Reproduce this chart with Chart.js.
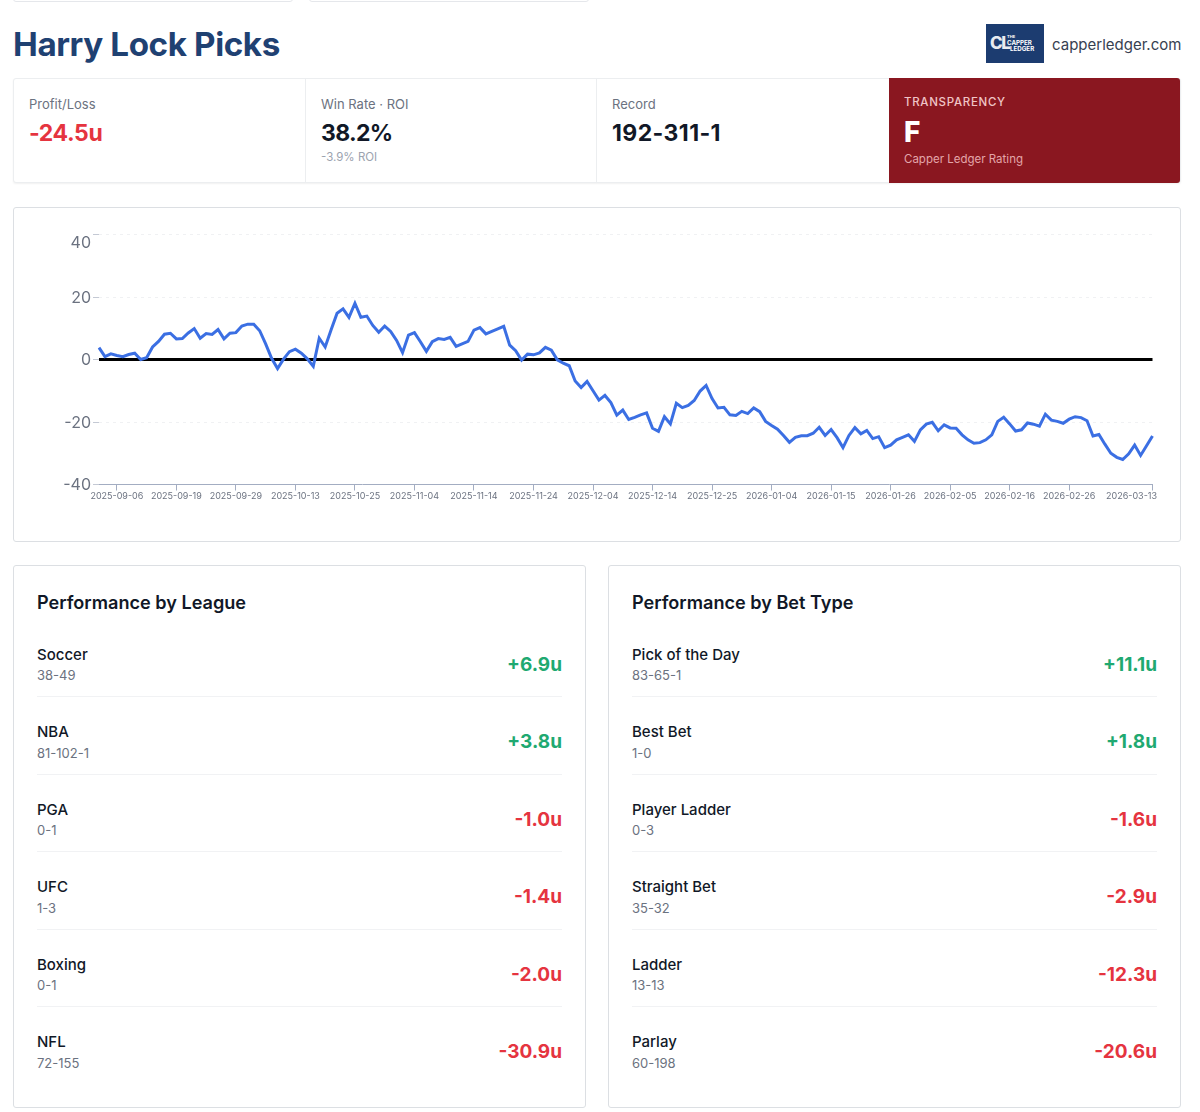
<!DOCTYPE html>
<html>
<head>
<meta charset="utf-8">
<title>Harry Lock Picks</title>
<script src="https://cdn.jsdelivr.net/npm/chart.js@4"></script>
<style>
  html, body { margin: 0; padding: 0; background: #fff; }
  body { width: 1200px; height: 1112px; position: relative; overflow: hidden; font-family: Inter, "Noto Sans", sans-serif; color: #111827; }
  .abs { position: absolute; white-space: nowrap; line-height: 1; }
  .box { position: absolute; box-sizing: border-box; background: #fff; border: 1px solid #dcdfe3; border-radius: 3px; }
  .rowname { font-size: 15px; font-weight: 500; color: #111827; }
  .rowrec { font-size: 13px; color: #6b7280; }
  .rowval { font-size: 19px; font-weight: 700; }
  .card-title { font-size: 18.1px; font-weight: 600; color: #111827; }
  .divider { position: absolute; height: 1px; background: #f1f2f4; }
</style>
</head>
<body>
<div class="box" style="left:13px;top:-20px;width:280px;height:22px;border-color:#e5e7eb;"></div>
<div class="box" style="left:309px;top:-20px;width:280px;height:22px;border-color:#e5e7eb;"></div>

<div class="abs" id="title" style="left:13px;top:28px;font-size:33.2px;font-weight:700;color:#1f4172;letter-spacing:-0.4px;">Harry Lock Picks</div>
<div style="position:absolute;left:986px;top:24px;width:58px;height:39px;background:#1c3c70;overflow:hidden;">
  <div class="abs" style="left:4px;top:11px;font-size:17px;font-weight:800;color:#e8ebf0;letter-spacing:-1.5px;">CL</div>
  <div class="abs" style="left:21px;top:11px;font-size:4px;font-weight:700;color:#fff;">THE</div>
  <div class="abs" style="left:21px;top:16px;font-size:6.2px;font-weight:700;color:#fff;">CAPPER</div>
  <div class="abs" style="left:24px;top:21.5px;font-size:6.2px;font-weight:700;color:#fff;">LEDGER</div>
</div>
<div class="abs" style="left:1052px;top:37px;font-size:15px;color:#374151;">capperledger.com</div>

<div class="box" style="left:13px;top:78px;width:1168px;height:105px;border-color:#eceef0;box-shadow:0 1px 2px rgba(0,0,0,.06);"></div>
<div style="position:absolute;left:305px;top:79px;width:1px;height:103px;background:#eceef0;"></div>
<div style="position:absolute;left:596px;top:79px;width:1px;height:103px;background:#eceef0;"></div>
<div style="position:absolute;left:889px;top:78px;width:291px;height:105px;background:#8a1720;border-radius:0 3px 3px 0;"></div>

<div class="abs" style="left:29px;top:98px;font-size:13px;color:#6b7280;">Profit/Loss</div>
<div class="abs" style="left:29px;top:122px;font-size:23px;font-weight:700;color:#e5343f;letter-spacing:-0.4px;">-24.5u</div>
<div class="abs" style="left:321px;top:98px;font-size:13px;color:#6b7280;">Win Rate · ROI</div>
<div class="abs" style="left:321px;top:122px;font-size:23px;font-weight:700;color:#111827;letter-spacing:-0.7px;">38.2%</div>
<div class="abs" style="left:321px;top:152px;font-size:11.5px;color:#9ca3af;">-3.9% ROI</div>
<div class="abs" style="left:612px;top:98px;font-size:13px;color:#6b7280;">Record</div>
<div class="abs" style="left:612px;top:122px;font-size:23px;font-weight:700;color:#111827;letter-spacing:0.4px;">192-311-1</div>
<div class="abs" style="left:904px;top:97px;font-size:11.5px;font-weight:500;letter-spacing:0.7px;color:#f0c4c6;">TRANSPARENCY</div>
<div class="abs" style="left:904px;top:118px;font-size:28px;font-weight:800;color:#fff;">F</div>
<div class="abs" style="left:904px;top:154px;font-size:11.5px;color:#e3a5a9;">Capper Ledger Rating</div>

<div class="box" style="left:13px;top:207px;width:1168px;height:335px;"></div>
<canvas id="pnlChart" style="position:absolute;left:14px;top:208px;"></canvas>

<div class="box" id="leagueCard" style="left:13px;top:565px;width:573px;height:543px;"></div>
<div class="box" id="betCard" style="left:608px;top:565px;width:573px;height:543px;"></div>

<script>
const dates = [
  '2025-09-03','2025-09-04','2025-09-05','2025-09-06','2025-09-07','2025-09-08','2025-09-09','2025-09-11','2025-09-12','2025-09-13',
  '2025-09-14','2025-09-16','2025-09-18','2025-09-19','2025-09-20','2025-09-21','2025-09-22','2025-09-23','2025-09-24','2025-09-25',
  '2025-09-26','2025-09-27','2025-09-28','2025-09-29','2025-09-30','2025-10-01','2025-10-02','2025-10-04','2025-10-05','2025-10-06',
  '2025-10-07','2025-10-09','2025-10-11','2025-10-13','2025-10-14','2025-10-15','2025-10-16','2025-10-17','2025-10-18','2025-10-19',
  '2025-10-20','2025-10-22','2025-10-24','2025-10-25','2025-10-26','2025-10-27','2025-10-28','2025-10-29','2025-10-30','2025-10-31',
  '2025-11-01','2025-11-02','2025-11-03','2025-11-04','2025-11-05','2025-11-06','2025-11-07','2025-11-08','2025-11-09','2025-11-10',
  '2025-11-11','2025-11-12','2025-11-13','2025-11-14','2025-11-15','2025-11-16','2025-11-17','2025-11-18','2025-11-19','2025-11-20',
  '2025-11-21','2025-11-22','2025-11-23','2025-11-24','2025-11-25','2025-11-26','2025-11-27','2025-11-28','2025-11-29','2025-11-30',
  '2025-12-01','2025-12-02','2025-12-03','2025-12-04','2025-12-05','2025-12-06','2025-12-07','2025-12-08','2025-12-09','2025-12-10',
  '2025-12-11','2025-12-12','2025-12-13','2025-12-14','2025-12-15','2025-12-16','2025-12-17','2025-12-18','2025-12-19','2025-12-20',
  '2025-12-21','2025-12-22','2025-12-23','2025-12-25','2025-12-26','2025-12-27','2025-12-28','2025-12-29','2025-12-30','2025-12-31',
  '2026-01-01','2026-01-02','2026-01-03','2026-01-04','2026-01-05','2026-01-06','2026-01-07','2026-01-08','2026-01-09','2026-01-10',
  '2026-01-11','2026-01-12','2026-01-14','2026-01-15','2026-01-16','2026-01-17','2026-01-18','2026-01-19','2026-01-20','2026-01-21',
  '2026-01-22','2026-01-23','2026-01-25','2026-01-26','2026-01-27','2026-01-28','2026-01-29','2026-01-30','2026-01-31','2026-02-01',
  '2026-02-02','2026-02-03','2026-02-04','2026-02-05','2026-02-06','2026-02-07','2026-02-08','2026-02-09','2026-02-10','2026-02-11',
  '2026-02-12','2026-02-13','2026-02-15','2026-02-16','2026-02-17','2026-02-18','2026-02-19','2026-02-20','2026-02-21','2026-02-22',
  '2026-02-23','2026-02-24','2026-02-25','2026-02-26','2026-02-27','2026-02-28','2026-03-01','2026-03-02','2026-03-03','2026-03-04',
  '2026-03-05','2026-03-06','2026-03-07','2026-03-09','2026-03-10','2026-03-11','2026-03-12','2026-03-13'
];
const profit = [
  3.8,0.9,1.8,1.3,0.9,1.6,2.0,0,0.6,4.0,
  5.8,8.1,8.4,6.6,6.7,8.5,9.9,6.8,8.3,8.0,
  9.6,6.6,8.4,8.6,10.7,11.3,11.3,9.2,5.0,0.4,
  -2.9,0.1,2.5,3.3,2.0,0.2,-2.2,6.8,4.0,9.5,
  14.8,16.2,13.5,18.0,13.5,13.9,10.9,8.7,10.7,9.0,
  6.1,2.2,7.8,8.6,5.7,2.6,5.7,6.7,6.4,7.1,
  4.2,5.0,5.8,9.4,10.2,8.2,9.0,9.8,10.6,4.6,
  2.8,-0.2,1.7,1.5,2.1,3.9,3.0,-0.1,-1.2,-2.0,
  -6.9,-9.0,-7.0,-10.0,-13.0,-11.5,-13.8,-17.8,-16.2,-19.2,
  -18.5,-17.7,-17.1,-22.0,-23.0,-18.3,-20.6,-14.0,-15.4,-14.7,
  -13.1,-10.1,-8.3,-12.5,-15.5,-15.3,-17.7,-17.9,-16.6,-17.3,
  -15.5,-16.7,-19.8,-21.1,-22.3,-24.3,-26.5,-24.9,-24.4,-24.4,
  -23.6,-21.7,-24.3,-22.4,-25.0,-28.2,-24.3,-21.8,-23.8,-22.7,
  -25.3,-24.7,-28.2,-27.4,-25.7,-24.9,-24.1,-26.2,-22.5,-20.7,
  -20.1,-22.8,-20.9,-21.9,-22.0,-24.1,-25.7,-26.8,-26.6,-25.7,
  -24.1,-19.8,-18.5,-20.6,-22.9,-22.5,-20.3,-20.7,-21.3,-17.5,
  -19.4,-19.8,-20.4,-19.1,-18.3,-18.6,-19.6,-24.5,-24.0,-27.1,
  -30.0,-31.3,-32.0,-30.2,-27.4,-30.7,-27.6,-24.5
];
const zeroLine = profit.map(() => 0);
const xTickIndexes = [3,13,23,33,43,53,63,73,83,93,103,113,123,133,143,153,163,177];
const yTicks = [-40,-20,0,20,40];

const leagueNames = ['Soccer','NBA','PGA','UFC','Boxing','NFL'];
const leagueRecords = ['38-49','81-102-1','0-1','1-3','0-1','72-155'];
const leagueUnits = [6.9,3.8,-1.0,-1.4,-2.0,-30.9];

const betNames = ['Pick of the Day','Best Bet','Player Ladder','Straight Bet','Ladder','Parlay'];
const betRecords = ['83-65-1','1-0','0-3','35-32','13-13','60-198'];
const betUnits = [11.1,1.8,-1.6,-2.9,-12.3,-20.6];

function addText(left, top, cls, text, color, right) {
  const d = document.createElement('div');
  d.className = 'abs ' + cls;
  d.textContent = text;
  if (right !== undefined) d.style.right = (1200 - right) + 'px'; else d.style.left = left + 'px';
  d.style.top = top + 'px';
  if (color) d.style.color = color;
  document.body.appendChild(d);
}

function buildCard(x, title, names, records, units) {
  addText(x, 593, 'card-title', title);
  names.forEach((name, i) => {
    const upper = Math.floor(i * 77.5);
    const lower = Math.ceil(i * 77.5);
    addText(x, 647 + upper, 'rowname', name);
    addText(x, 669 + lower, 'rowrec', records[i]);
    const label = (units[i] > 0 ? '+' : '') + units[i].toFixed(1) + 'u';
    addText(0, 655 + upper, 'rowval', label, units[i] > 0 ? '#1fa971' : '#e5343f', x + 525);
    if (i < names.length - 1) {
      const line = document.createElement('div');
      line.className = 'divider';
      line.style.left = x + 'px';
      line.style.width = '525px';
      line.style.top = (696 + lower) + 'px';
      document.body.appendChild(line);
    }
  });
}
buildCard(37, 'Performance by League', leagueNames, leagueRecords, leagueUnits);
buildCard(632, 'Performance by Bet Type', betNames, betRecords, betUnits);

// the last date label is pushed back inside the chart box, like the reference
const nudgeLastLabel = {
  id: 'nudgeLastLabel',
  beforeDraw(chart) {
    const items = chart.scales.x.getLabelItems();
    const last = items[items.length - 1];
    if (last && !last.nudged) {
      last.options.translation[0] -= 21;
      last.nudged = true;
    }
  }
};

const canvas = document.getElementById('pnlChart');
canvas.width = 1166;
canvas.height = 333;

new Chart(canvas, {
  type: 'line',
  data: {
    labels: dates,
    datasets: [
      {
        data: profit,
        borderColor: '#3b6fe3',
        borderWidth: 3,
        pointRadius: 0,
        tension: 0,
        order: 1
      },
      {
        data: zeroLine,
        borderColor: '#000000',
        borderWidth: 3,
        pointRadius: 0,
        order: 2
      }
    ]
  },
  options: {
    responsive: false,
    animation: false,
    devicePixelRatio: 1,
    layout: { padding: { left: 0, right: 27.5, top: 26.5, bottom: 26.5 } },
    plugins: { legend: { display: false }, tooltip: { enabled: false } },
    scales: {
      x: {
        type: 'category',
        offset: false,
        afterBuildTicks: s => { s.ticks = xTickIndexes.map(i => ({ value: i })); },
        afterFit: s => { s.height = 30; },
        ticks: {
          autoSkip: false,
          maxRotation: 0,
          padding: 0,
          color: '#6b7280',
          font: { family: 'Inter', size: 9 }
        },
        grid: { display: true, drawOnChartArea: false, tickLength: 6, tickColor: '#a3adc2' },
        border: { color: '#a3adc2', width: 1 }
      },
      y: {
        min: -40,
        max: 40,
        afterBuildTicks: s => { s.ticks = yTicks.map(v => ({ value: v })); },
        afterFit: s => { s.width = 85; },
        ticks: {
          padding: 2,
          labelOffset: 1,
          color: '#6b7280',
          font: ctx => ({ family: 'Inter', size: 16, lineHeight: ctx.tick && ctx.tick.value === 40 ? 0.9 : 1.2 }),
          // the top label sits just under its tick in the reference
          callback: v => (v === 40 ? ['', '40'] : String(v))
        },
        grid: { color: '#f0f1f3', tickColor: '#c4c9d4', tickLength: 6 },
        border: { display: false, dash: [3, 4] }
      }
    }
  },
  plugins: [nudgeLastLabel]
});
</script>
</body>
</html>
